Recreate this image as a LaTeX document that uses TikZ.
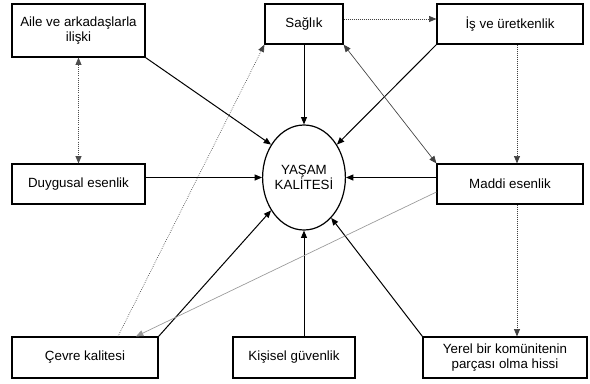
\documentclass[tikz,border=0pt]{standalone}
\usepackage{fontspec}
\setmainfont{Liberation Sans}
\usetikzlibrary{arrows.meta,shapes.geometric,calc}
\begin{document}
\begin{tikzpicture}[x=0.75pt,y=-0.75pt,
  every node/.style={font=\fontsize{10}{11.5}\selectfont},
  box/.style 2 args={draw,line width=0.9pt,align=center,inner sep=0pt,
    minimum width=#1*0.75pt,minimum height=#2*0.75pt},
  tip/.style={-{Triangle[length=5.5pt,width=4.5pt]}},
  tips/.style={{Triangle[length=5.5pt,width=4.5pt]}-{Triangle[length=5.5pt,width=4.5pt]}},
  link/.style={tip,line width=0.75pt},
  weak/.style={tip,line width=0.5pt,densely dotted,black!75},
  faint/.style={tip,line width=0.5pt,black!40},
  twoway/.style={tips,line width=0.5pt,black!75},
  twowaydot/.style={tips,line width=0.6pt,densely dotted,black!70}]
  \useasboundingbox (0,0) rectangle (590,383);

  % centre ellipse
  \node[draw,ellipse,line width=0.9pt,minimum width=80*0.75pt,minimum height=105*0.75pt,
        inner sep=0pt,align=center] (y) at (304,177.5) {YAŞAM\\KALİTESİ};

  % factor boxes
  \node[box={133}{53}] (aile) at (78.5,30.5) {Aile ve arkadaşlarla\\ilişki};
  \node[box={78}{40}]  (sag)  at (304,24)    {Sağlık};
  \node[box={146}{40}] (is)   at (510,24)    {İş ve üretkenlik};
  \node[box={133}{40}] (duy)  at (78.5,184)  {Duygusal esenlik};
  \node[box={146}{40}] (mad)  at (510,184)   {Maddi esenlik};
  \node[box={146}{41}] (cev)  at (85,357.5)  {Çevre kalitesi};
  \node[box={122}{41}] (kis)  at (294,357.5) {Kişisel güvenlik};
  \node[box={164}{41}] (yer)  at (505,357.5) {Yerel bir komünitenin\\parçası olma hissi};

  % helper points on box edges
  \coordinate (s1) at ($(sag.east)+(0,-5)$);
  \coordinate (i1) at ($(is.south)+(7,0)$);
  \coordinate (m1) at ($(mad.west)+(0,8)$);
  \coordinate (c1) at ($(cev.north)+(51,0)$);
  \coordinate (c2) at ($(cev.north)+(33,0)$);
  \coordinate (m2) at (i1 |- mad.south);

  % direct influences on quality of life
  \draw[link] (aile.south east) -- (y.135);
  \draw[link] (duy.east |- y.west) -- (y.west);
  \draw[link] (sag.south) -- (y.north);
  \draw[link] (is.south west) -- (y.45);
  \draw[link] (mad.west |- y.east) -- (y.east);
  \draw[link] (cev.north east) -- (y.225);
  \draw[link] (kis.north -| y.south) -- (y.south);
  \draw[link] (yer.north west) -- (y.-56);

  % links between factors
  \draw[twowaydot] (aile.south) -- (duy.north);
  \draw[weak] (s1) -- (s1 -| is.west);
  \draw[twoway] (sag.south east) -- (mad.north west);
  \draw[weak] (i1) -- (i1 |- mad.north);
  \draw[weak] (m2) -- (m2 |- yer.north);
  \draw[faint] (m1) -- (c1);
  \draw[weak] (c2) -- (sag.south west);
\end{tikzpicture}
\end{document}
